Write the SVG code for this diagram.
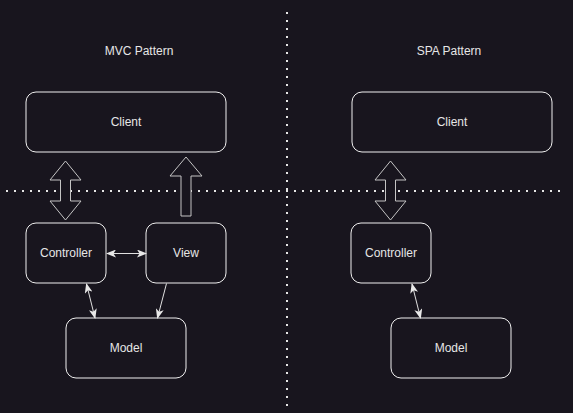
<svg xmlns="http://www.w3.org/2000/svg" width="573" height="413" viewBox="0 0 573 413">
<defs>
<style>
.box{fill:#18151e;stroke:#f0f0f0;stroke-width:1}
.big{fill:#18151e;stroke:#c4c4c4;stroke-width:1}
.lbl{font-family:"Liberation Sans",Arial,sans-serif;font-size:12px;fill:#e6e6e6;text-anchor:middle;dominant-baseline:central}
.dot{stroke:#e6e6e6;stroke-width:2;stroke-dasharray:2 6;fill:none}
.con{stroke:#e0e0e0;stroke-width:1;fill:none}
</style>
<marker id="arr" viewBox="0 0 10 8" refX="9" refY="4" markerWidth="10" markerHeight="8" markerUnits="userSpaceOnUse" orient="auto-start-reverse">
<path d="M0,0 L10,4 L0,8 L2.5,4 Z" fill="#e8e8e8"/>
</marker>
</defs>
<rect width="573" height="413" fill="#18151e"/>
<g id="dividers">
<line class="dot" x1="287" y1="12" x2="287" y2="410"/>
<line class="dot" x1="6" y1="191" x2="562" y2="191"/>
</g>
<g id="titles">
<text class="lbl" x="139" y="51">MVC Pattern</text>
<text class="lbl" x="449" y="51">SPA Pattern</text>
</g>
<g id="mvc-client"><rect class="box" x="26" y="92" width="200" height="60" rx="10"/><text class="lbl" x="126" y="122">Client</text></g>
<g id="mvc-controller"><rect class="box" x="26" y="223" width="80" height="60" rx="10"/><text class="lbl" x="66" y="253">Controller</text></g>
<g id="mvc-view"><rect class="box" x="146" y="223" width="80" height="60" rx="10"/><text class="lbl" x="186" y="253">View</text></g>
<g id="mvc-model"><rect class="box" x="66" y="318" width="120" height="60" rx="10"/><text class="lbl" x="126" y="348">Model</text></g>
<g id="spa-client"><rect class="box" x="352" y="92" width="200" height="60" rx="10"/><text class="lbl" x="452" y="122">Client</text></g>
<g id="spa-controller"><rect class="box" x="351" y="223" width="80" height="60" rx="10"/><text class="lbl" x="391" y="253">Controller</text></g>
<g id="spa-model"><rect class="box" x="391" y="318" width="120" height="60" rx="10"/><text class="lbl" x="451" y="348">Model</text></g>
<g id="connectors">
<polygon class="big" points="65.5,161 81,180 70.5,180 70.5,201 81,201 65.5,220 50,201 60.5,201 60.5,180 50,180"/>
<polygon class="big" points="186,157 202,176 191,176 191,216 181,216 181,176 170,176"/>
<polygon class="big" points="390.5,161 406,180 395.5,180 395.5,201 406,201 390.5,220 375,201 385.5,201 385.5,180 375,180"/>
<line class="con" x1="107" y1="253.5" x2="146" y2="253.5" marker-start="url(#arr)" marker-end="url(#arr)"/>
<line class="con" x1="86.5" y1="284" x2="95" y2="318" marker-start="url(#arr)" marker-end="url(#arr)"/>
<line class="con" x1="166.5" y1="283.5" x2="157.5" y2="318" marker-end="url(#arr)"/>
<line class="con" x1="412" y1="284" x2="420.5" y2="318" marker-start="url(#arr)" marker-end="url(#arr)"/>
</g>
</svg>
